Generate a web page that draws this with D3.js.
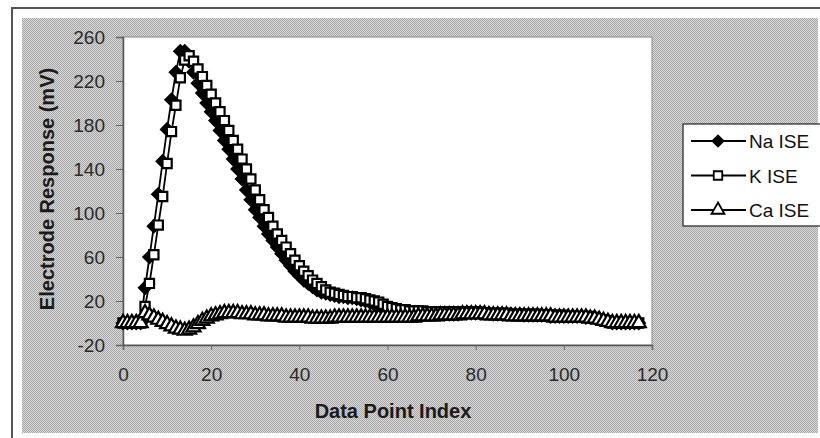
<!DOCTYPE html>
<html><head><meta charset="utf-8">
<script src="https://cdn.jsdelivr.net/npm/d3@7"></script>
<style>html,body{margin:0;padding:0;background:#fff;}svg{display:block;}</style>
</head><body>
<svg id="chart" width="820" height="438"></svg>
<script>
// ---- data ----
const seriesNames = ["Na ISE", "K ISE", "Ca ISE"];
const xTicks = [0, 20, 40, 60, 80, 100, 120];
const yTicks = [-20, 20, 60, 100, 140, 180, 220, 260];
// index 0..117
const naValues = [
  0,0,0,0,0, 32,60,88,117,147, 176,203,228,247,247, 238,228,218,209,200,
  192,184,175,166,158, 149,140,131,121,112, 103,96,88,81,75, 69,63,57,52,47,
  43,39,36,33,30, 28,27,26,25,24, 24,23,23,22,21, 20,19,17,15,14,
  13,12,11,10,10, 9,9,9,8,8, 8,8,8,8,8, 8,8,9,9,9,
  9,9,9,9,8, 8,8,8,8,8, 8,7,7,7,7, 7,7,6,6,6,
  6,6,6,6,6, 5,5,5,4,3, 2,0,0,0,0, 0,0,0
];
const kValues = [
  0,0,0,0,0, 15,36,62,89,115, 145,174,198,223,239, 243,238,231,224,216,
  208,200,192,184,175, 166,158,149,140,131, 121,112,103,96,88, 81,75,69,63,57,
  52,47,43,39,36, 33,30,28,27,26, 25,24,24,23,23, 22,21,20,19,17,
  15,14,13,12,12, 11,11,11,11,10, 10,10,10,10,10, 10,10,10,10,10,
  10,10,9,9,9, 9,9,9,8,8, 8,8,8,8,8, 7,7,7,7,7,
  7,6,6,6,6, 6,6,5,4,3, 2,0,0,0,0, 0,0,0
];
const caValues = [
  0,0,0,0,0, 9,7,5,3,1, -1,-3,-5,-6,-7, -6,-4,-1,2,4,
  6,7,8,9,9, 9,9,8,8,8, 7,7,7,6,6, 6,6,5,5,5,
  5,5,5,4,4, 4,4,4,5,5, 5,5,5,5,5, 5,5,5,5,5,
  5,5,5,5,5, 5,5,6,6,6, 6,6,7,7,7, 7,7,8,8,8,
  8,8,8,7,7, 7,7,7,6,6, 6,6,6,6,6, 6,6,6,5,5,
  5,5,5,5,5, 5,4,4,3,2, 1,0,0,0,0, 0,0,0
];

const svg = d3.select("#chart");
const W = 820, H = 438;
const FONT = "Liberation Sans, Arial, sans-serif";

// pattern for dithered gray background
const defs = svg.append("defs");
const pat = defs.append("pattern").attr("id","dither").attr("width",2).attr("height",2)
  .attr("patternUnits","userSpaceOnUse");
pat.append("rect").attr("width",2).attr("height",2).attr("fill","#dadada");
pat.append("rect").attr("x",0).attr("y",0).attr("width",1).attr("height",1).attr("fill","#a6a6a6");
pat.append("rect").attr("x",1).attr("y",1).attr("width",1).attr("height",1).attr("fill","#a6a6a6");

// outer frame
svg.append("rect").attr("x",12).attr("y",8).attr("width",W+10).attr("height",H+10)
  .attr("fill","#fff").attr("stroke","#555").attr("stroke-width",2);
svg.append("rect").attr("x",22).attr("y",18).attr("width",796).attr("height",415)
  .attr("fill","url(#dither)");

const margin = {left:123, top:37, right:652, bottom:345};
const x = d3.scaleLinear().domain([0,120]).range([margin.left, margin.right]);
const y = d3.scaleLinear().domain([-20,260]).range([margin.bottom, margin.top]);

// plot area
svg.append("rect").attr("x",margin.left).attr("y",margin.top)
  .attr("width",margin.right-margin.left).attr("height",margin.bottom-margin.top)
  .attr("fill","#fff").attr("stroke","#888").attr("stroke-width",1);

// axes
const fmt = d => (d < 0 ? "-" + Math.abs(d) : String(d));
const xAxis = d3.axisBottom(x).tickValues(xTicks).tickSize(5).tickPadding(18).tickFormat(fmt);
const yAxis = d3.axisLeft(y).tickValues(yTicks).tickSize(7).tickPadding(11).tickFormat(fmt);
const gx = svg.append("g").attr("transform",`translate(0,${margin.bottom})`).call(xAxis);
const gy = svg.append("g").attr("transform",`translate(${margin.left},0)`).call(yAxis);
[gx, gy].forEach(g => {
  g.select(".domain").attr("stroke","#555").attr("stroke-width",1.5);
  g.selectAll(".tick line").attr("stroke","#666");
  g.selectAll(".tick text").attr("font-family",FONT)
    .attr("font-size",19).attr("fill","#2a2a2a");
});

// titles
svg.append("text").attr("x",393).attr("y",418).attr("text-anchor","middle")
  .attr("font-family",FONT).attr("font-weight","bold")
  .attr("font-size",20).attr("fill","#1a1a1a").text("Data Point Index");
svg.append("text").attr("transform","translate(54,189) rotate(-90)").attr("text-anchor","middle")
  .attr("font-family",FONT).attr("font-weight","bold")
  .attr("font-size",20).attr("fill","#1a1a1a").text("Electrode Response (mV)");

// series
const series = [
  {name: seriesNames[0], values: naValues, symbol: d3.symbolSquare, rot: 45, fill: "#000", size: 72},
  {name: seriesNames[1], values: kValues, symbol: d3.symbolSquare, rot: 0, fill: "#fff", size: 85},
  {name: seriesNames[2], values: caValues, symbol: d3.symbolTriangle, rot: 0, fill: "#fff", size: 85}
];
const line = d3.line().x((d,i)=>x(i)).y(d=>y(d));
series.forEach(s => {
  const g = svg.append("g");
  g.append("path").datum(s.values).attr("d",line).attr("fill","none")
    .attr("stroke","#000").attr("stroke-width",1.8);
  g.selectAll("path.m").data(s.values).enter().append("path").attr("class","m")
    .attr("transform",(d,i)=>`translate(${x(i)},${y(d)}) rotate(${s.rot})`)
    .attr("d", d3.symbol().type(s.symbol).size(s.size))
    .attr("fill", s.fill).attr("stroke","#000").attr("stroke-width",2.2);
});

// legend
const lg = svg.append("g");
lg.append("rect").attr("x",683).attr("y",124).attr("width",150).attr("height",102)
  .attr("fill","#fff").attr("stroke","#222").attr("stroke-width",1.2);
series.forEach((s,i) => {
  const yy = 141 + i*34.5;
  lg.append("line").attr("x1",691).attr("x2",746).attr("y1",yy).attr("y2",yy)
    .attr("stroke","#000").attr("stroke-width",1.8);
  lg.append("path").attr("transform",`translate(718,${yy}) rotate(${s.rot})`)
    .attr("d", d3.symbol().type(s.symbol).size(s.size * 0.85))
    .attr("fill", s.fill).attr("stroke","#000").attr("stroke-width",1.8);
  lg.append("text").attr("x",749).attr("y",yy+7)
    .attr("font-family",FONT).attr("font-size",19)
    .attr("fill","#111").text(s.name);
});
</script>
</body></html>
